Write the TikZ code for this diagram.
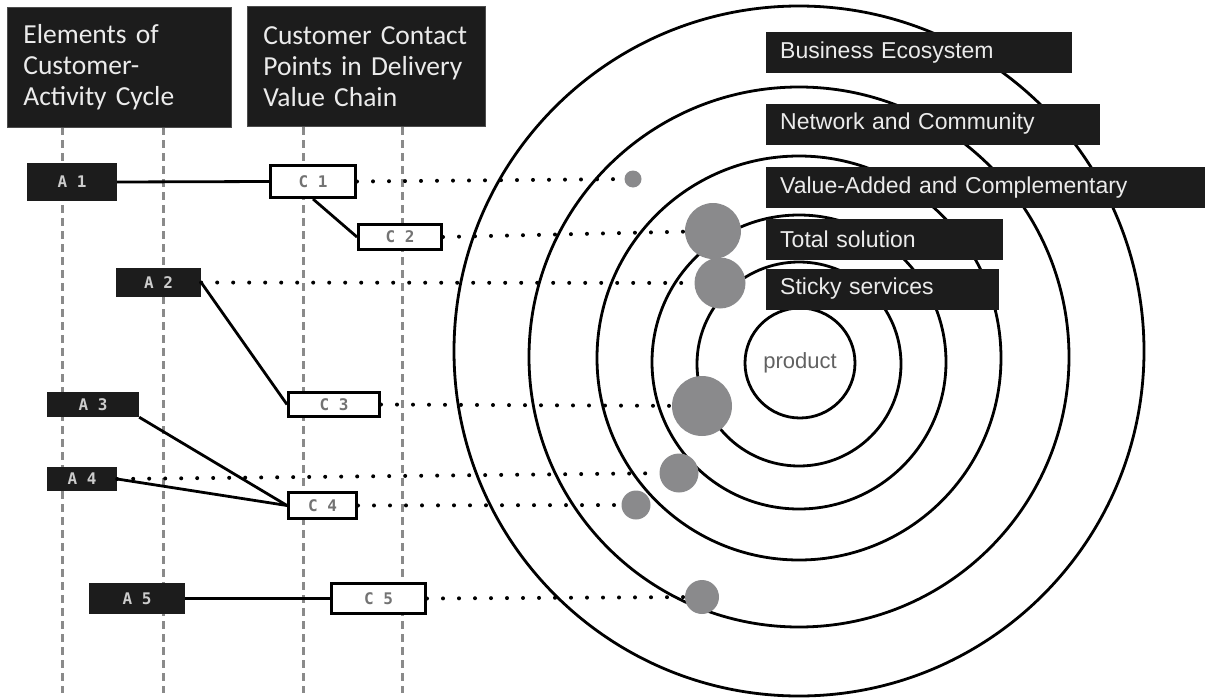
\documentclass[tikz,border=0pt]{standalone}
\usepackage{fontspec}
\setmainfont{Liberation Sans}
\newfontfamily\headfont{Carlito}
\newfontfamily\tagfont{DejaVu Sans Mono}
\usepackage{xcolor}
\definecolor{boxblack}{HTML}{1C1C1C}
\definecolor{spotgray}{HTML}{8A8A8C}
\definecolor{lanegray}{HTML}{8A8A8A}

\begin{document}
\begin{tikzpicture}[x=1pt,y=-1pt,
  head/.style={fill=boxblack,draw=black!70,line width=0.8pt,text=white!92!black,anchor=north west,align=left,inner xsep=16pt,inner ysep=0pt,minimum height=120pt,font=\headfont\fontsize{27.5}{31}\selectfont},
  atag/.style={fill=boxblack,text=white!80!black,inner sep=0pt,font=\tagfont\bfseries\fontsize{16}{16}\selectfont},
  ctag/.style={fill=white,draw=black,line width=3pt,text=black!55,inner sep=0pt,font=\tagfont\bfseries\fontsize{16}{16}\selectfont},
  ringlabel/.style={fill=boxblack,text=white!92!black,anchor=west,align=left,inner xsep=14pt,inner ysep=0pt,minimum height=41pt,font=\fontsize{23}{23}\selectfont},
  ring/.style={line width=2.8pt},
  spot/.style={circle,fill=spotgray,inner sep=0pt},
  lane/.style={lanegray,line width=3pt,dash pattern=on 8pt off 5pt},
  link/.style={line width=2.8pt},
  touch/.style={line width=4pt,line cap=round,dash pattern=on 0pt off 16pt}]
		\useasboundingbox (0,0) rectangle (1208,699);
		% LANES
		\foreach \x in {62,163,303,402}
		  \draw[lane] (\x,127) -- (\x,693);
		% RINGS
		\foreach \r/\cy in {102/364,147/362,202/358,270/357,345/351}
		  \draw[ring] (799,\cy) circle[radius=\r pt];
		\node[ring,draw,circle,minimum size=110pt,inner sep=0pt,text=black!62,font=\fontsize{22}{22}\selectfont] (product) at (800,363) {product};
		% RING LABELS
		\node[ringlabel,text width=278pt] (eco) at (766,52.5) {Business Ecosystem};
		\node[ringlabel,text width=306pt] (net) at (766,124) {Network and Community};
		\node[ringlabel,text width=411pt] (vac) at (766,187.5) {Value-Added and Complementary};
		\node[ringlabel,text width=209pt] (tot) at (766,239) {Total solution};
		\node[ringlabel,text width=205pt] (sticky) at (766,289) {Sticky services};
		% HEADERS
		\node[head,text width=192pt] (cycle) at (7,7) {Elements of\\Customer-\\Activity Cycle};
		\node[head,text width=206pt] (chain) at (247,6) {Customer Contact\\Points in Delivery\\Value Chain};
		% SPOTS ON THE RINGS
		\node[spot,minimum size=17pt] (d1) at (633,179) {};
		\node[spot,minimum size=56pt] (d2) at (713,231) {};
		\node[spot,minimum size=51pt] (d3) at (720,283) {};
		\node[spot,minimum size=60pt] (d4) at (702,406) {};
		\node[spot,minimum size=39pt] (d5) at (679,473) {};
		\node[spot,minimum size=29pt] (d6) at (636,505) {};
		\node[spot,minimum size=34pt] (d7) at (702,597) {};
		% ACTIVITIES
		\node[atag,minimum width=90pt,minimum height=38pt] (a1) at (72,182) {A 1};
		\node[atag,minimum width=85pt,minimum height=29pt] (a2) at (158.5,282.5) {A 2};
		\node[atag,minimum width=92pt,minimum height=25pt] (a3) at (93,404.5) {A 3};
		\node[atag,minimum width=70pt,minimum height=24pt] (a4) at (82,479) {A 4};
		\node[atag,minimum width=96pt,minimum height=31pt] (a5) at (137,598.5) {A 5};
		% CONTACT POINTS
		\node[ctag,minimum width=85pt,minimum height=32pt] (c1) at (313,181.5) {C 1};
		\node[ctag,minimum width=83pt,minimum height=25pt] (c2) at (400,237) {C 2};
		\node[ctag,minimum width=91pt,minimum height=24pt] (c3) at (334,404.5) {C 3};
		\node[ctag,minimum width=68pt,minimum height=26pt] (c4) at (322.5,505.5) {C 4};
		\node[ctag,minimum width=94pt,minimum height=30pt] (c5) at (378.5,598.5) {C 5};
		% LINKS
		\draw[link] (a1.east) -- (c1.west);
		\draw[link] (c1.south) -- (c2.west);
		\draw[link] (a2.east) -- (c3.west);
		\draw[link] (a3.south east) -- (c4.west);
		\draw[link] (a4.east) -- (c4.west);
		\draw[link] (a5.east) -- (c5.west);
		% DOTTED TOUCHES
		\draw[touch] (c1.east) -- (d1);
		\draw[touch] (c2.east) -- (d2);
		\draw[touch] (a2.east) -- (d3);
		\draw[touch] (c3.east) -- (d4);
		\draw[touch] (a4.east) -- (d5);
		\draw[touch] (c4.east) -- (d6);
		\draw[touch] (c5.east) -- (d7);
\end{tikzpicture}
\end{document}
